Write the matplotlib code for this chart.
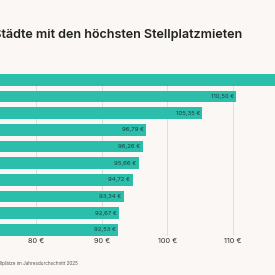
import matplotlib.pyplot as plt

# Data (bars from top to bottom); the top bar runs off the right edge
values = [123.00, 110.50, 105.35, 96.79, 96.26, 95.66, 94.72, 93.34, 92.67, 92.53]
tick_values = [80, 90, 100, 110]
tick_labels = ["80 €", "90 €", "100 €", "110 €"]

title = "Top 10 Städte mit den höchsten Stellplatzmieten"
footnote = "Durchschnittliche Mietpreise für Stellplätze im Jahresdurchschnitt 2025"

bg = "#faf7f4"
bar_color = "#2bbfab"
text_color = "#222222"

plt.rcParams["font.family"] = ["Inter", "DejaVu Sans"]

fig = plt.figure(figsize=(2.75, 2.75), dpi=100, facecolor=bg)

# axes spans full width; the chart is a crop of a wider graphic
px_per_unit = 6.567
x_left = 80 - 36 / px_per_unit
x_right = 80 + (275 - 36) / px_per_unit
ax = fig.add_axes([0, (275 - 236) / 275, 1, 161.9 / 275])
ax.set_facecolor(bg)

positions = list(range(len(values)))
ax.barh(positions, values, height=0.7, color=bar_color, zorder=2)

for y, v in zip(positions, values):
    label = f"{v:.2f} €".replace(".", ",")
    ax.text(v - 0.35, y, label, ha="right", va="center", fontsize=4.3,
            color="#1d3b37", zorder=3)

ax.set_xlim(x_left, x_right)
ax.set_ylim(9.37, -0.35)
ax.set_xticks(tick_values)
ax.set_xticklabels(tick_labels, fontsize=5.3, color="#333333")
ax.set_yticks([])
ax.tick_params(axis="x", length=0, pad=1.5)
ax.grid(axis="x", color="#e2dedb", linewidth=0.7, zorder=0)
for s in ax.spines.values():
    s.set_visible(False)

fig.text(242 / 275, 1 - 35 / 275, title, ha="right", va="center",
         fontsize=9.05, fontweight="semibold", color=text_color)
fig.text(78 / 275, 1 - 263.5 / 275, footnote, ha="right", va="center",
         fontsize=3.3, color="#555555")

fig.savefig("out.png", dpi=100, facecolor=bg)
